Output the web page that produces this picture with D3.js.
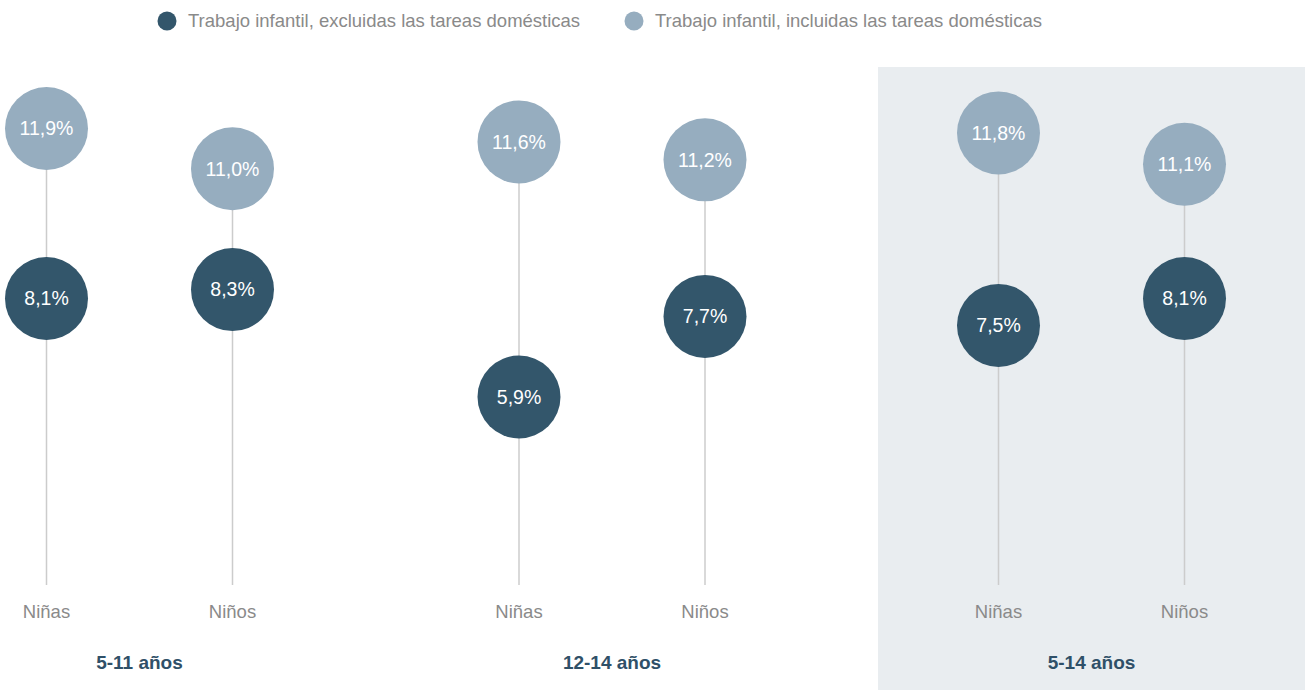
<!DOCTYPE html>
<html><head><meta charset="utf-8">
<script src="https://cdn.jsdelivr.net/npm/d3@7"></script>
<style>
html,body{margin:0;padding:0;background:#fff;}
svg{display:block;font-family:"Liberation Sans",Arial,Helvetica,sans-serif;}
</style></head>
<body>
<svg id="chart" width="1306" height="690"></svg>
<script>
const groups = ["5-11 años", "12-14 años", "5-14 años"];
const sexes = ["Niñas", "Niños"];
const seriesNames = ["Trabajo infantil, excluidas las tareas domésticas", "Trabajo infantil, incluidas las tareas domésticas"];
const excluding = [8.1, 8.3, 5.9, 7.7, 7.5, 8.1];
const including = [11.9, 11.0, 11.6, 11.2, 11.8, 11.1];
const highlightGroup = "5-14 años";

const W = 1306, H = 690;
const darkC = "#33566b", lightC = "#96adbf";
const svg = d3.select("#chart");
const fmt = v => d3.format(".1f")(v).replace(".", ",") + "%";

const gx = d3.scaleOrdinal().domain(groups).range([139.5, 612, 1091.5]);
const sx = d3.scalePoint().domain(sexes).range([-93, 93]);
const y = d3.scaleLinear().domain([0, 12]).range([661, 124]);
const lineBottom = 585;
const R = 41.5;

// highlight panel
svg.append("rect").attr("x", gx(highlightGroup) - 213.5).attr("y", 67)
  .attr("width", 427).attr("height", H - 67).attr("fill", "#e9edf0");

// legend
const legX = [167, 634];
const leg = svg.append("g");
seriesNames.forEach((n, i) => {
  leg.append("circle").attr("cx", legX[i]).attr("cy", 21).attr("r", 9.5)
    .attr("fill", i === 0 ? darkC : lightC);
  leg.append("text").attr("x", legX[i] + 21).attr("y", 21).attr("dy", "0.35em")
    .attr("font-size", 18.5).attr("fill", "#8a8a8a").text(n);
});

const data = [];
groups.forEach((g, gi) => sexes.forEach((s, si) => {
  const k = gi * 2 + si;
  data.push({g, s, ex: excluding[k], inc: including[k]});
}));

const items = svg.selectAll("g.item").data(data).join("g")
  .attr("class", "item")
  .attr("transform", d => `translate(${gx(d.g) + sx(d.s)},0)`);

items.append("line").attr("x1", 0).attr("x2", 0)
  .attr("y1", d => y(Math.max(d.ex, d.inc))).attr("y2", lineBottom)
  .attr("stroke", "#cccccc").attr("stroke-width", 1.5);

items.append("circle").attr("cy", d => y(d.inc)).attr("r", R).attr("fill", lightC);
items.append("text").attr("y", d => y(d.inc)).attr("dy", "0.35em").attr("text-anchor", "middle")
  .attr("font-size", 19.5).attr("fill", "#fff").text(d => fmt(d.inc));

items.append("circle").attr("cy", d => y(d.ex)).attr("r", R).attr("fill", darkC);
items.append("text").attr("y", d => y(d.ex)).attr("dy", "0.35em").attr("text-anchor", "middle")
  .attr("font-size", 19.5).attr("fill", "#fff").text(d => fmt(d.ex));

items.append("text").attr("y", 612).attr("dy", "0.35em").attr("text-anchor", "middle")
  .attr("font-size", 18.5).attr("fill", "#8a8a8a").text(d => d.s);

svg.selectAll("text.grp").data(groups).join("text").attr("class", "grp")
  .attr("x", d => gx(d)).attr("y", 662).attr("dy", "0.35em").attr("text-anchor", "middle")
  .attr("font-size", 19).attr("font-weight", "bold").attr("fill", "#2f5068").text(d => d);
</script>
</body></html>
